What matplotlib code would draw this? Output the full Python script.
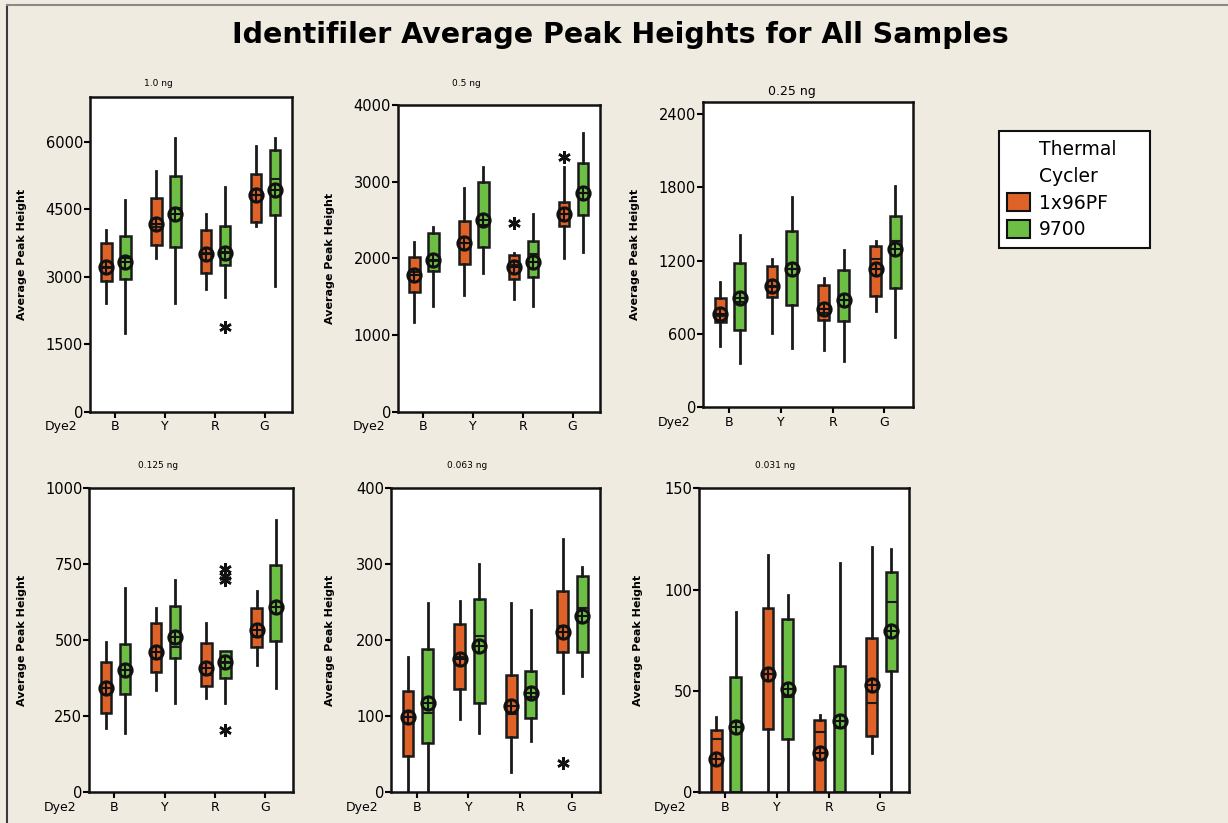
import matplotlib
matplotlib.use("Agg")
import matplotlib.pyplot as plt
from matplotlib.lines import Line2D
from matplotlib.patches import Patch

# ---------------------------------------------------------------------------
# Data
# ---------------------------------------------------------------------------
doses = ["1.0 ng", "0.5 ng", "0.25 ng", "0.125 ng", "0.063 ng", "0.031 ng"]
dyes = ["B", "Y", "R", "G"]
cyclers = ["1x96PF", "9700"]

# box order in every panel: B-1x96PF, B-9700, Y-1x96PF, Y-9700, R-..., G-...
whisk_lo = [
    [2410, 1740, 3410, 2420, 2740, 2560, 4130, 2790],
    [1165, 1383, 1522, 1804, 1465, 1383, 2000, 2087],
    [502, 360, 606, 489, 470, 382, 784, 579],
    [211, 196, 337, 293, 309, 293, 419, 342],
    [0, 0, 97, 78, 27, 67, 131, 153],
    [0, 0, 0, 0, 0, 0, 19.5, 0],
]
q1 = [
    [2904, 2941, 3704, 3667, 3089, 3274, 4222, 4370],
    [1557, 1839, 1926, 2143, 1726, 1761, 2426, 2565],
    [696, 633, 906, 838, 715, 702, 912, 980],
    [260, 322, 395, 441, 351, 377, 477, 499],
    [48, 64.5, 135.5, 118, 73, 98, 184, 184],
    [0, 0, 31.4, 26.4, 0, 0, 28, 60],
]
med = [
    [3200, 3410, 4110, 4530, 3520, 3560, 4815, 5185],
    [1826, 1960, 2196, 2435, 1913, 2057, 2578, 2857],
    [743, 865, 988, 1130, 770, 874, 1212, 1357],
    [342, 402, 437, 479, 386, 424, 510, 611],
    [106, 104, 178.5, 206, 103, 126, 219, 243],
    [26.4, 34.7, 58.6, 47, 30, 31.7, 44.3, 94],
]
q3 = [
    [3763, 3911, 4763, 5237, 4037, 4141, 5281, 5815],
    [2013, 2326, 2491, 2991, 2043, 2230, 2739, 3239],
    [893, 1179, 1158, 1439, 1002, 1125, 1316, 1567],
    [430, 488, 556, 614, 492, 465, 607, 748],
    [133, 189, 222, 254, 155, 159, 265, 285],
    [30.6, 57, 91, 85.6, 35.8, 62.3, 76, 108.7],
]
whisk_hi = [
    [4052, 4718, 5348, 6096, 4393, 5000, 5904, 6096],
    [2217, 2413, 2917, 3196, 2065, 2578, 3196, 3639],
    [1024, 1411, 1212, 1723, 1057, 1289, 1357, 1807],
    [493, 671, 607, 698, 558, 465, 662, 896],
    [178.5, 249, 252, 300, 249, 240, 333, 297],
    [37, 89, 117, 97.5, 38, 113, 121, 120],
]
means = [
    [3222, 3333, 4170, 4392, 3504, 3541, 4830, 4926],
    [1783, 1978, 2196, 2500, 1891, 1957, 2578, 2857],
    [762, 898, 994, 1130, 803, 874, 1130, 1294],
    [342, 402, 463, 510, 408, 430, 534, 611],
    [99.6, 117, 175, 192, 114, 131, 211, 232],
    [16.5, 32, 58.6, 51, 19.5, 35, 53, 79.6],
]
# outliers: {box index: [values]}
outliers = [
    {5: [1890]},
    {4: [2457], 6: [3317]},
    {},
    {5: [205, 697, 713, 733]},
    {6: [38]},
    {},
]
y_max = [7000, 4000, 2500, 1000, 400, 150]
y_ticks = [
    [0, 1500, 3000, 4500, 6000],
    [0, 1000, 2000, 3000, 4000],
    [0, 600, 1200, 1800, 2400],
    [0, 250, 500, 750, 1000],
    [0, 100, 200, 300, 400],
    [0, 50, 100, 150],
]

# ---------------------------------------------------------------------------
# Layout / style
# ---------------------------------------------------------------------------
W, H = 1228, 823
BG = "#F0EBE1"
COLORS = ["#DF6328", "#6DBE45"]
OFFSETS = [-0.17, 0.21]

# axes rectangles in pixels: left, top, right, bottom
axes_px = [
    (90, 97, 292, 411.7),
    (398, 105, 600, 411.7),
    (703, 101.7, 913, 407.3),
    (89.3, 488.3, 292.7, 792.3),
    (391, 488.3, 600, 792.3),
    (699, 488.3, 909, 792.3),
]
title_px = [(158, 84, 6.5), (466, 84, 6.5), (792, 91, 9),
            (158, 465, 6.5), (467, 465, 6.5), (775, 465, 6.5)]
ylabel_off = [63, 63, 63, 62, 56, 56]

fig = plt.figure(figsize=(W / 100, H / 100), dpi=100, facecolor=BG)

fig.text(620 / W, 1 - 35 / H, "Identifiler Average Peak Heights for All Samples",
         ha="center", va="center", fontsize=20.5, fontweight="bold")

for i, dose in enumerate(doses):
    l, t, r, b = axes_px[i]
    ax = fig.add_axes([l / W, 1 - b / H, (r - l) / W, (b - t) / H])

    stats, pos = [], []
    for j in range(8):
        d, c = divmod(j, 2)
        stats.append(dict(whislo=whisk_lo[i][j], q1=q1[i][j], med=med[i][j],
                          q3=q3[i][j], whishi=whisk_hi[i][j], mean=means[i][j],
                          fliers=outliers[i].get(j, [])))
        pos.append(d + 1 + OFFSETS[c])

    bp = ax.bxp(stats, positions=pos, widths=0.21, patch_artist=True,
                showcaps=False, showmeans=True,
                boxprops=dict(edgecolor="#1a1a1a", linewidth=1.8),
                whiskerprops=dict(color="#1a1a1a", linewidth=2),
                medianprops=dict(color="#1a1a1a", linewidth=1.5),
                meanprops=dict(marker="o", markerfacecolor="none",
                               markeredgecolor="#111111", markersize=9.5,
                               markeredgewidth=2.2),
                flierprops=dict(marker=(6, 2, 0), markeredgecolor="#111111",
                                markersize=9, markeredgewidth=1.8,
                                linestyle="none"))
    for j, box in enumerate(bp["boxes"]):
        box.set_facecolor(COLORS[j % 2])
    ax.plot(pos, means[i], linestyle="none", marker="+", color="#111111",
            markersize=8, markeredgewidth=1.5, zorder=4)

    ax.set_xlim(0.5, 4.55)
    ax.set_ylim(0, y_max[i])
    ax.set_yticks(y_ticks[i])
    ax.set_xticks(range(1, 5))
    ax.set_xticklabels(dyes)
    ax.set_facecolor("white")
    for sp in ax.spines.values():
        sp.set_linewidth(1.8)
        sp.set_color("#111111")
    ax.tick_params(axis="y", length=4, width=1.5, labelsize=10.5, pad=1)
    ax.tick_params(axis="x", length=4, width=1.5, labelsize=9, pad=2)
    ax.set_ylabel("Average Peak Height", fontsize=8, fontweight="bold")
    ax.yaxis.set_label_coords(-ylabel_off[i] / (r - l), 0.5)
    ax.annotate("Dye2", xy=(0, 0), xycoords="axes fraction", xytext=(-9, -6),
                textcoords="offset points", ha="right", va="top", fontsize=9)

    tx, ty, fs = title_px[i]
    fig.text(tx / W, 1 - ty / H, dose, ha="center", va="center", fontsize=fs)

# legend: first two rows carry the two-line title aligned with the labels
blank = Patch(visible=False)
handles = [blank, blank] + [Patch(facecolor=c, edgecolor="#111111", linewidth=1.5)
                            for c in COLORS]
labels = ["Thermal", "Cycler"] + cyclers
leg = fig.legend(handles, labels, loc="upper left",
                 bbox_to_anchor=(999 / W, 1 - 248 / H, 151 / W, 117 / H),
                 mode="expand", borderaxespad=0, fontsize=13.5, frameon=True,
                 fancybox=False, edgecolor="#111111", framealpha=1,
                 handlelength=1.2, handleheight=1.1, handletextpad=0.5,
                 labelspacing=0.4, borderpad=0.45)
leg.get_frame().set_linewidth(1.5)

# page frame
fig.add_artist(Line2D([7 / W, 7 / W], [0, 1 - 5 / H], transform=fig.transFigure,
                      color="#3a3a3a", linewidth=1.5))
fig.add_artist(Line2D([7 / W, 1], [1 - 5 / H, 1 - 5 / H], transform=fig.transFigure,
                      color="#8a8a8a", linewidth=1.5))

fig.savefig("out.png", dpi=100, facecolor=BG)
